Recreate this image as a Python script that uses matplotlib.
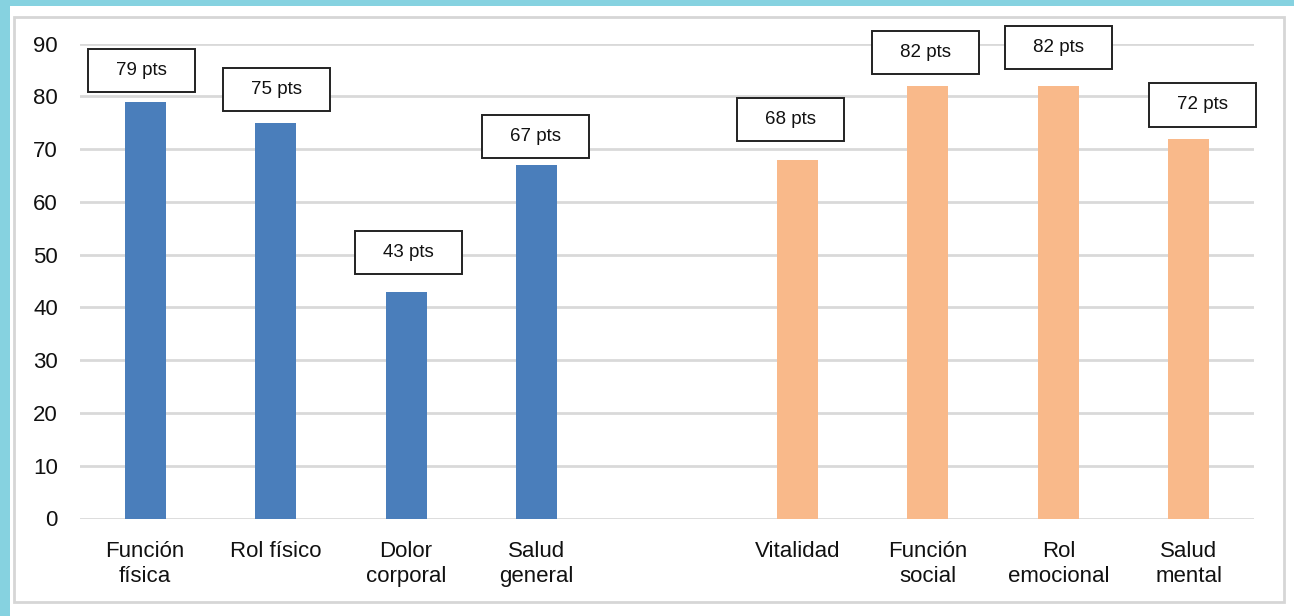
import matplotlib.pyplot as plt
import matplotlib.patches as patches
from matplotlib.transforms import offset_copy
import numpy as np

# шкалы SF-36: физический и психический компоненты
fisico = ['Función\nfísica', 'Rol físico', 'Dolor\ncorporal', 'Salud\ngeneral']
fisico_vals = [79, 75, 43, 67]
mental = ['Vitalidad', 'Función\nsocial', 'Rol\nemocional', 'Salud\nmental']
mental_vals = [68, 82, 82, 72]

# сдвиги рамок подписей (dx, dy в пикселях) относительно верха столбца
label_dx = [-4, 1, 2, -1, -7, -2, 0, 14]
label_dy = [10, 12, 18, 7, 19, 12, 17, 12]

W, H = 1294, 616
fig = plt.figure(figsize=(W / 100, H / 100), dpi=100)
fig.patch.set_facecolor('#86d2e0')
plt.rcParams['font.family'] = ['Liberation Sans', 'DejaVu Sans']

# белая подложка и серая рамка
fig.add_artist(patches.Rectangle((10 / W, 0), 1 - 10 / W, 1 - 6 / H, transform=fig.transFigure,
                                 facecolor='white', edgecolor='none', zorder=-2))
fig.add_artist(patches.Rectangle((14 / W, 14 / H), (1284 - 14) / W, (602 - 17) / H,
                                 transform=fig.transFigure, facecolor='none',
                                 edgecolor='#d6d6d6', linewidth=2, zorder=-1))

ax = fig.add_axes([80 / W, (H - 518.5) / H, (1254 - 80) / W, (518.5 - 43.5) / H])
ax.set_facecolor('none')

labels = fisico + [''] + mental
values = fisico_vals + [np.nan] + mental_vals
colors = ['#4a7ebb'] * len(fisico) + ['none'] + ['#f9b98a'] * len(mental)
x = np.arange(len(labels))
ax.bar(x, np.nan_to_num(values), width=0.315, color=colors, zorder=3)

ax.set_xlim(-0.5, len(labels) - 0.5)
ax.set_ylim(0, 90)
ax.set_yticks(range(0, 91, 10))
ax.yaxis.grid(True, color='#d9d9d9', linewidth=2)
ax.set_axisbelow(True)
for s in ax.spines.values():
    s.set_visible(False)
ax.set_xticks(x)
ax.set_xticklabels(labels, fontsize=16, linespacing=1.25, color='#111111')
ax.tick_params(axis='x', length=0, pad=16)
ax.tick_params(axis='y', length=0, pad=16, labelsize=16, labelcolor='#111111')

# подписи значений в рамках фиксированного размера
box_w = 0.82   # в единицах оси x
box_h = 8.15   # в единицах оси y
pos = [xi for xi, v in zip(x, values) if not np.isnan(v)]
vals_only = [v for v in values if not np.isnan(v)]
for i, (xi, v) in enumerate(zip(pos, vals_only)):
    tr = offset_copy(ax.transData, fig=fig, x=label_dx[i], y=label_dy[i], units='dots')
    ax.add_patch(patches.Rectangle((xi - box_w / 2, v), box_w, box_h, transform=tr,
                                   facecolor='white', edgecolor='#222222', linewidth=1.4,
                                   zorder=4, clip_on=False))
    ax.text(xi, v + box_h / 2, f'{v} pts', transform=tr, ha='center', va='center',
            fontsize=13.5, color='#111111', zorder=5)

plt.savefig('out.png', dpi=100, facecolor=fig.get_facecolor())
